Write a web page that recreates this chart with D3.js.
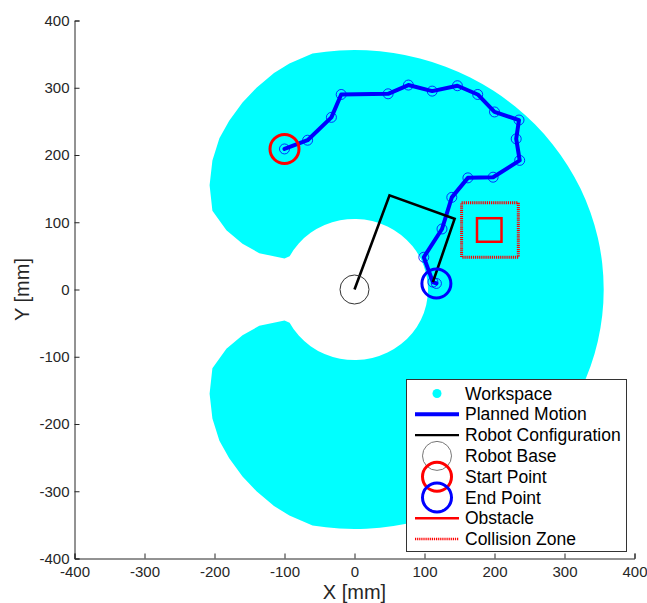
<!DOCTYPE html>
<html>
<head>
<meta charset="utf-8">
<script src="https://cdn.jsdelivr.net/npm/d3@7"></script>
<style>
  html, body { margin: 0; padding: 0; background: #fff; }
  svg { display: block; font-family: "Liberation Sans", Arial, sans-serif; }
</style>
</head>
<body>
<svg id="chart" width="647" height="603"></svg>
<script>
// Axis ticks (mm)
const xTicks = [-400, -300, -200, -100, 0, 100, 200, 300, 400];
const yTicks = [-400, -300, -200, -100, 0, 100, 200, 300, 400];

// Reachable workspace: outer / inner radii and the rounded end caps of the "C"
const workspaceOuterR = 356;
const workspaceInnerR = 105;
const outerArcEndDeg = 99.7;   // outer arc spans +/- this angle through 0 deg
const innerArcEndDeg = 152;    // inner arc spans +/- this angle through 0 deg
const upperCapX = [-100, -136, -160, -183, -203, -207, -203, -193, -179, -160, -140, -115, -93];
const upperCapY = [46, 54, 68, 88, 117, 155, 192, 225, 251, 278, 300, 322, 336];
const lowerCapX = [-93, -115, -140, -160, -179, -193, -203, -207, -203, -183, -160, -136, -100];
const lowerCapY = [-336, -322, -300, -278, -251, -225, -192, -155, -117, -88, -68, -54, -46];

// Planned end-effector motion (mm)
const motionX = [-100, -67, -33, -19, 48, 77, 111, 147, 176, 200, 235, 231, 236, 198, 162, 139, 125, 99, 112, 117];
const motionY = [209, 222, 256, 290, 291, 304, 295, 303, 290, 264, 252, 224, 192, 167, 166, 137, 90, 48, 11, 9];

// Robot configuration: joint positions (mm)
const armX = [0, 50, 143, 112];
const armY = [0, 140, 105, 11];

const basePoint = [0, 0];
const startPoint = [-100, 209];
const endPoint = [117, 9];

// Obstacle and its collision zone: [xmin, ymin, xmax, ymax]
const obstacle = [175, 71, 210, 106];
const collisionZone = [153, 48, 234, 129];

const legendLabels = ["Workspace", "Planned Motion", "Robot Configuration", "Robot Base",
                      "Start Point", "End Point", "Obstacle", "Collision Zone"];

const svg = d3.select("#chart");
const x = d3.scaleLinear().domain([-400, 400]).range([74.5, 634.5]);
const y = d3.scaleLinear().domain([-400, 400]).range([558.5, 20.5]);
const axisColor = "#262626";

// ---- workspace region ----
const rad = d => d * Math.PI / 180;
function polar(r, deg) { return [r * Math.cos(rad(deg)), r * Math.sin(rad(deg))]; }
const rxO = x(workspaceOuterR) - x(0), ryO = y(0) - y(workspaceOuterR);
const rxI = x(workspaceInnerR) - x(0), ryI = y(0) - y(workspaceInnerR);
const oTop = polar(workspaceOuterR, outerArcEndDeg), oBot = polar(workspaceOuterR, -outerArcEndDeg);
const iBot = polar(workspaceInnerR, -innerArcEndDeg), iTop = polar(workspaceInnerR, innerArcEndDeg);
let d = `M${x(oTop[0])},${y(oTop[1])}`;
d += `A${rxO},${ryO} 0 1 1 ${x(oBot[0])},${y(oBot[1])}`;
lowerCapX.forEach((v, i) => { d += `L${x(v)},${y(lowerCapY[i])}`; });
d += `L${x(iBot[0])},${y(iBot[1])}`;
d += `A${rxI},${ryI} 0 1 0 ${x(iTop[0])},${y(iTop[1])}`;
upperCapX.forEach((v, i) => { d += `L${x(v)},${y(upperCapY[i])}`; });
d += "Z";
svg.append("path").attr("d", d).attr("fill", "#00ffff");

// ---- planned motion ----
const motion = motionX.map((v, i) => [v, motionY[i]]);
const line = d3.line().x(p => x(p[0])).y(p => y(p[1]));
svg.append("path").attr("d", line(motion))
  .attr("fill", "none").attr("stroke", "#0000ff").attr("stroke-width", 4)
  .attr("stroke-linejoin", "round").attr("stroke-linecap", "round");
svg.append("g").selectAll("circle").data(motion).join("circle")
  .attr("cx", p => x(p[0])).attr("cy", p => y(p[1])).attr("r", 5)
  .attr("fill", "none").attr("stroke", "#0000ff").attr("stroke-width", 0.8);

// ---- robot configuration ----
const arm = armX.map((v, i) => [v, armY[i]]);
svg.append("path").attr("d", line(arm))
  .attr("fill", "none").attr("stroke", "#000").attr("stroke-width", 2.6)
  .attr("stroke-linejoin", "miter");

// ---- base, start, end ----
svg.append("circle").attr("cx", x(basePoint[0])).attr("cy", y(basePoint[1])).attr("r", 14.5)
  .attr("fill", "none").attr("stroke", "#333").attr("stroke-width", 1);
svg.append("circle").attr("cx", x(startPoint[0])).attr("cy", y(startPoint[1])).attr("r", 14.5)
  .attr("fill", "none").attr("stroke", "#ff0000").attr("stroke-width", 3);
svg.append("circle").attr("cx", x(endPoint[0])).attr("cy", y(endPoint[1])).attr("r", 14.5)
  .attr("fill", "none").attr("stroke", "#0000ff").attr("stroke-width", 3);

// ---- obstacle & collision zone ----
function rectBox(b) {
  return { x: x(b[0]), y: y(b[3]), w: x(b[2]) - x(b[0]), h: y(b[1]) - y(b[3]) };
}
const ob = rectBox(obstacle), cz = rectBox(collisionZone);
svg.append("rect").attr("x", ob.x).attr("y", ob.y).attr("width", ob.w).attr("height", ob.h)
  .attr("fill", "none").attr("stroke", "#ff0000").attr("stroke-width", 2.5);
svg.append("rect").attr("x", cz.x).attr("y", cz.y).attr("width", cz.w).attr("height", cz.h)
  .attr("fill", "none").attr("stroke", "#ff0000").attr("stroke-width", 3)
  .attr("stroke-dasharray", "1.2,0.9");

// ---- axes (left and bottom only, ticks inward) ----
const xAxis = d3.axisBottom(x).tickValues(xTicks).tickSize(-5).tickPadding(8).tickFormat(d3.format("d"));
const yAxis = d3.axisLeft(y).tickValues(yTicks).tickSize(-5).tickPadding(5).tickFormat(d3.format("d"));
const gx = svg.append("g").attr("transform", `translate(0,${y(-400)})`).call(xAxis);
const gy = svg.append("g").attr("transform", `translate(${x(-400)},0)`).call(yAxis);
[gx, gy].forEach(g => {
  g.select(".domain").attr("stroke", axisColor).attr("stroke-width", 1);
  g.selectAll(".tick line").attr("stroke", axisColor);
  g.selectAll(".tick text").attr("fill", axisColor)
    .style("font-family", "'Liberation Sans', Arial, sans-serif").style("font-size", "15px");
});
// minus signs as plain hyphens
gx.selectAll(".tick text").text(v => String(v));
gy.selectAll(".tick text").text(v => String(v));

svg.append("text").attr("x", x(0)).attr("y", 599).attr("text-anchor", "middle")
  .attr("fill", axisColor).style("font-size", "20px").text("X [mm]");
svg.append("text").attr("transform", `translate(29,${y(0)}) rotate(-90)`).attr("text-anchor", "middle")
  .attr("fill", axisColor).style("font-size", "20px").text("Y [mm]");

// ---- legend ----
const lg = svg.append("g");
lg.append("rect").attr("x", 406.5).attr("y", 379.5).attr("width", 220).attr("height", 172)
  .attr("fill", "#fff").attr("stroke", "#333").attr("stroke-width", 1);
const rowY = i => 393.5 + i * 20.8;
const sx0 = 415, sx1 = 459, scx = 437, tx = 465;
legendLabels.forEach((lab, i) => {
  lg.append("text").attr("x", tx).attr("y", rowY(i)).attr("dy", "0.35em")
    .attr("fill", "#000").style("font-size", "17.5px").text(lab);
});
lg.append("circle").attr("cx", scx).attr("cy", rowY(0)).attr("r", 4.5).attr("fill", "#00ffff");
lg.append("line").attr("x1", sx0).attr("x2", sx1).attr("y1", rowY(1)).attr("y2", rowY(1))
  .attr("stroke", "#0000ff").attr("stroke-width", 4);
lg.append("line").attr("x1", sx0).attr("x2", sx1).attr("y1", rowY(2)).attr("y2", rowY(2))
  .attr("stroke", "#000").attr("stroke-width", 2.2);
lg.append("circle").attr("cx", scx).attr("cy", rowY(3)).attr("r", 14.5)
  .attr("fill", "none").attr("stroke", "#777").attr("stroke-width", 1);
lg.append("circle").attr("cx", scx).attr("cy", rowY(4)).attr("r", 14.5)
  .attr("fill", "none").attr("stroke", "#ff0000").attr("stroke-width", 3);
lg.append("circle").attr("cx", scx).attr("cy", rowY(5)).attr("r", 14.5)
  .attr("fill", "none").attr("stroke", "#0000ff").attr("stroke-width", 3);
lg.append("line").attr("x1", sx0).attr("x2", sx1).attr("y1", rowY(6)).attr("y2", rowY(6))
  .attr("stroke", "#ff0000").attr("stroke-width", 2.5);
lg.append("line").attr("x1", sx0).attr("x2", sx1).attr("y1", rowY(7)).attr("y2", rowY(7))
  .attr("stroke", "#ff0000").attr("stroke-width", 2.5).attr("stroke-dasharray", "1.2,0.9");
</script>
</body>
</html>
